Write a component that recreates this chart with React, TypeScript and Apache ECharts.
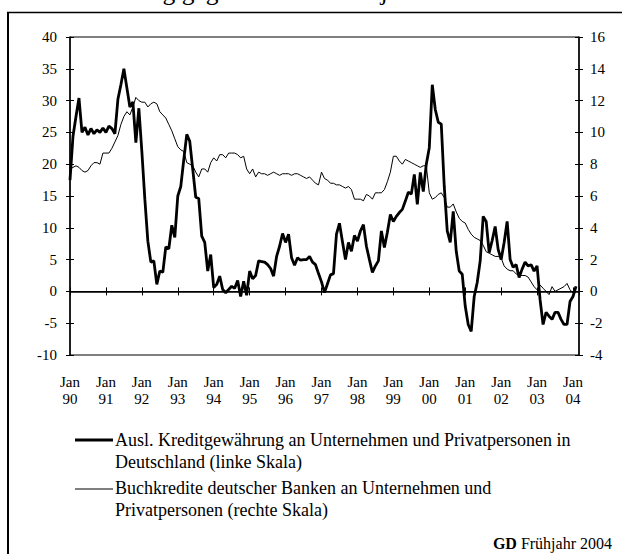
import React, { useEffect, useRef } from "react";
import * as echarts from "echarts";

// Year labels for the January ticks (every 12 months, starting Jan 1990)
const yearLabels = ["90", "91", "92", "93", "94", "95", "96", "97", "98", "99", "00", "01", "02", "03", "04"];

// Ausl. Kreditgewährung (left scale), monthly from Jan 1990
const foreignCredit = [
  17.5, 24.4, 27.5, 30.4, 25.0, 25.8, 24.6, 25.6, 24.8, 25.4, 25.0, 25.7,
  25.0, 26.0, 25.6, 24.8, 30.2, 32.5, 35.0, 32.0, 29.0, 29.8, 23.4, 28.8,
  22.0, 14.5, 7.9, 4.6, 4.8, 1.1, 3.2, 3.0, 7.0, 6.7, 10.4, 8.5,
  15.0, 16.5, 20.7, 24.7, 23.6, 19.2, 14.8, 14.6, 8.7, 7.7, 3.2, 5.8,
  0.6, 1.1, 2.4, 0.3, -0.2, 0.3, 0.8, 0.5, 1.7, -0.8, 1.6, -0.6,
  3.2, 2.0, 2.5, 4.8, 4.7, 4.6, 4.2, 3.6, 2.4, 5.5, 7.1, 9.1,
  7.7, 9.0, 5.3, 4.1, 5.3, 4.9, 5.0, 5.0, 5.5, 4.6, 4.2, 2.8,
  1.5, -0.2, 1.2, 2.6, 2.8, 9.0, 10.7, 7.8, 5.0, 7.7, 6.3, 8.8,
  7.9, 9.5, 10.5, 7.1, 5.0, 3.0, 4.0, 4.8, 9.5, 6.9, 9.3, 12.1,
  11.0, 11.8, 12.4, 12.9, 14.2, 15.6, 15.3, 18.4, 13.7, 18.7, 15.7, 20.0,
  22.6, 32.5, 28.6, 26.6, 26.3, 16.5, 9.5, 7.7, 12.6, 6.3, 3.2, 2.7,
  -2.3, -5.2, -6.3, -0.8, 1.4, 4.8, 11.8, 11.0, 6.1, 8.0, 10.2, 6.6,
  5.0, 7.7, 11.0, 5.0, 3.8, 4.2, 2.2, 3.5, 4.6, 4.0, 4.2, 3.2,
  4.0, -1.3, -5.2, -3.3, -3.9, -4.4, -3.3, -3.3, -4.4, -5.2, -5.2, -1.6,
  -0.8, 0.8,
];

// Buchkredite deutscher Banken (right scale), monthly from Jan 1990
const bankLoans = [
  7.7, 7.8, 7.9, 7.8, 7.6, 7.5, 7.6, 7.9, 8.1, 8.1, 8.0, 8.7,
  8.7, 8.7, 9.0, 9.4, 9.8, 10.5, 11.0, 11.3, 11.1, 11.6, 12.2, 12.0,
  11.9, 11.9, 11.6, 11.8, 11.9, 11.8, 11.3, 11.1, 10.9, 10.5, 10.1, 9.6,
  9.1, 8.9, 8.8, 8.1, 8.0, 7.9, 7.5, 7.2, 7.7, 7.7, 7.5, 8.1,
  8.4, 8.2, 8.6, 8.6, 8.4, 8.7, 8.7, 8.7, 8.6, 8.4, 8.5, 7.7,
  7.4, 7.7, 7.2, 7.5, 7.4, 7.4, 7.3, 7.4, 7.5, 7.4, 7.3, 7.4,
  7.4, 7.4, 7.3, 7.4, 7.4, 7.3, 7.2, 7.1, 7.2, 7.0, 6.8, 6.7,
  7.5, 7.1, 7.0, 6.8, 6.8, 6.7, 6.7, 6.6, 6.5, 6.6, 6.4, 5.8,
  5.8, 5.8, 5.7, 6.1, 6.0, 5.8, 6.2, 6.2, 6.2, 6.4, 6.9, 7.5,
  8.5, 8.5, 8.2, 8.0, 8.3, 8.2, 8.1, 8.0, 7.9, 7.8, 7.9, 7.9,
  6.2, 5.8, 5.9, 6.1, 6.2, 5.9, 5.3, 5.3, 5.5, 5.0, 4.6, 4.4,
  4.3, 3.9, 3.6, 3.4, 3.3, 3.2, 2.9, 2.5, 2.4, 2.3, 2.2, 2.2,
  2.1, 1.6, 1.4, 1.3, 1.3, 1.1, 1.0, 1.0, 1.0, 0.9, 0.6, 0.3,
  0.1, 0.4, 0.2, 0.0, -0.2, 0.3, 0.0, 0.1, 0.2, 0.3, 0.5, 0.1,
  -0.1, 0.3,
];

const legendLine1 = ["Ausl. Kreditgewährung an Unternehmen und Privatpersonen in", "Deutschland (linke Skala)"];
const legendLine2 = ["Buchkredite deutscher Banken an Unternehmen und", "Privatpersonen (rechte Skala)"];
const titleText = "Veränderung gegenüber dem Vorjahr in %";

const FONT = "Liberation Serif";

export default function App() {
  const ref = useRef<HTMLDivElement>(null);

  useEffect(() => {
    if (!ref.current) return;
    const chart = echarts.init(ref.current, null, { renderer: "svg" });

    const xCommon = {
      type: "value" as const,
      min: 0,
      max: 170,
      interval: 12,
      splitLine: { show: false },
    };
    const yLeft = { type: "value" as const, min: -10, max: 40, interval: 5, splitLine: { show: false } };
    const yRight = { type: "value" as const, min: -4, max: 16, interval: 2, splitLine: { show: false } };
    const axisLine = { show: true, lineStyle: { color: "#000", width: 1.5 } };
    const tickStyle = { color: "#000", width: 1 };
    const txt = (text: string, x: number, y: number) => ({
      type: "text",
      x,
      y,
      style: { text, fill: "#000", fontFamily: FONT, fontSize: 18, verticalAlign: "middle" },
    });

    chart.setOption({
      animation: false,
      backgroundColor: "#fff",
      grid: {
        left: 70,
        top: 37,
        width: 509,
        height: 318,
        show: true,
        borderColor: "#000",
        borderWidth: 1,
        backgroundColor: "transparent",
      },
      xAxis: [
        {
          ...xCommon,
          position: "bottom",
          axisLine,
          axisTick: { show: true, inside: false, length: 4, lineStyle: tickStyle },
          axisLabel: {
            show: true,
            margin: 18,
            color: "#000",
            fontFamily: FONT,
            fontSize: 15,
            lineHeight: 17,
            formatter: (v: number) => {
              if (v % 12 !== 0) return "";
              const lbl = yearLabels[v / 12];
              return lbl ? `Jan\n${lbl}` : "";
            },
          },
        },
        {
          ...xCommon,
          position: "bottom",
          axisLine: { show: false },
          axisTick: { show: true, inside: true, length: 4, lineStyle: tickStyle },
          axisLabel: { show: false },
        },
      ],
      yAxis: [
        {
          ...yLeft,
          position: "left",
          axisLine,
          axisTick: { show: true, inside: false, length: 4, lineStyle: tickStyle },
          axisLabel: { show: true, margin: 13, color: "#000", fontFamily: FONT, fontSize: 15 },
        },
        {
          ...yLeft,
          position: "left",
          axisLine: { show: false },
          axisTick: { show: true, inside: true, length: 4, lineStyle: tickStyle },
          axisLabel: { show: false },
        },
        {
          ...yRight,
          position: "right",
          axisLine,
          axisTick: { show: true, inside: false, length: 4, lineStyle: tickStyle },
          axisLabel: { show: true, margin: 11, color: "#000", fontFamily: FONT, fontSize: 15 },
        },
        {
          ...yRight,
          position: "right",
          axisLine: { show: false },
          axisTick: { show: true, inside: true, length: 4, lineStyle: tickStyle },
          axisLabel: { show: false },
        },
      ],
      series: [
        {
          name: "Buchkredite",
          type: "line",
          xAxisIndex: 0,
          yAxisIndex: 2,
          showSymbol: false,
          symbol: "none",
          lineStyle: { color: "#000", width: 1 },
          data: bankLoans.map((v, i) => [i, v]),
        },
        {
          name: "Ausl. Kreditgewährung",
          type: "line",
          xAxisIndex: 0,
          yAxisIndex: 0,
          showSymbol: false,
          symbol: "none",
          lineStyle: { color: "#000", width: 2.8 },
          data: foreignCredit.map((v, i) => [i, v]),
          markLine: {
            silent: true,
            symbol: "none",
            label: { show: false },
            lineStyle: { color: "#000", width: 1, type: "solid" },
            data: [{ yAxis: 0 }],
          },
        },
      ],
      graphic: [
        // frame
        { type: "line", shape: { x1: 8, y1: 12, x2: 8, y2: 554 }, style: { stroke: "#000", lineWidth: 2 } },
        { type: "line", shape: { x1: 7, y1: 12.5, x2: 622, y2: 12.5 }, style: { stroke: "#000", lineWidth: 1.5 } },
        // title line, clipped by the top edge as in the reference
        {
          type: "text",
          x: 45,
          y: -9,
          style: { text: titleText, fill: "#000", fontFamily: FONT, fontSize: 25.5, verticalAlign: "middle" },
        },
        // legend
        { type: "line", shape: { x1: 75, y1: 440, x2: 113, y2: 440 }, style: { stroke: "#000", lineWidth: 3 } },
        txt(legendLine1[0], 115, 440),
        txt(legendLine1[1], 115, 462),
        { type: "line", shape: { x1: 75, y1: 489, x2: 113, y2: 489 }, style: { stroke: "#000", lineWidth: 1 } },
        txt(legendLine2[0], 115, 488),
        txt(legendLine2[1], 115, 510),
        {
          type: "text",
          x: 612,
          y: 543,
          style: {
            text: "{b|GD} Frühjahr 2004",
            fill: "#000",
            fontFamily: FONT,
            fontSize: 16,
            align: "right",
            verticalAlign: "middle",
            rich: { b: { fontWeight: "bold", fontSize: 16, fontFamily: FONT } },
          },
        },
      ],
    });

    return () => chart.dispose();
  }, []);

  return (
    <div
      ref={ref}
      style={{ position: "fixed", left: 0, top: 0, width: 622, height: 554, background: "#fff" }}
    />
  );
}
